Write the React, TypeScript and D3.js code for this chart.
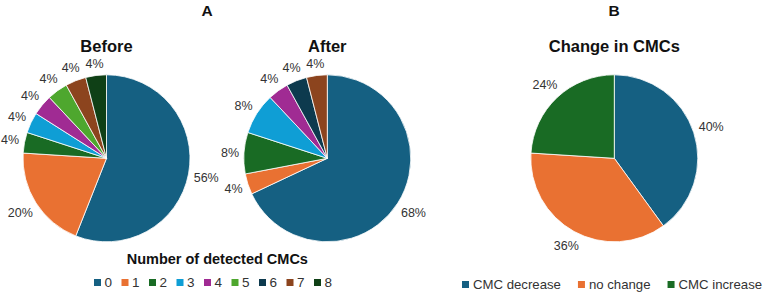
import React from 'react';
import * as d3 from 'd3';

const cmcCategories = ['0', '1', '2', '3', '4', '5', '6', '7', '8'];
const cmcColors = ['#156082', '#E97132', '#196B24', '#0F9ED5', '#A02B93', '#4EA72E', '#0D3A4E', '#8C441E', '#0F4016'];
const beforeValues = [56, 20, 4, 4, 4, 4, 0, 4, 4];
const afterValues = [68, 4, 8, 8, 4, 0, 4, 4, 0];
const changeCategories = ['CMC decrease', 'no change', 'CMC increase'];
const changeValues = [40, 36, 24];
const changeColors = ['#156082', '#E97132', '#196B24'];

const FONT = "'Liberation Sans', Arial, sans-serif";
const W = 773;
const H = 294;
const R = 83.5;
const LABEL_SIZE = 12.5;

function measure(text: string, size: number, weight = 'normal'): number {
  const c = document.createElement('canvas').getContext('2d');
  if (!c) return text.length * size * 0.55;
  c.font = `${weight} ${size}px ${FONT}`;
  return c.measureText(text).width;
}

type PieProps = { cx: number; cy: number; values: number[]; colors: string[]; title: string };

function Pie({ cx, cy, values, colors, title }: PieProps) {
  const pie = d3.pie<number>().sort(null).value((d) => d).startAngle(0).endAngle(2 * Math.PI);
  const arcs = pie(values);
  const arc = d3.arc<d3.PieArcDatum<number>>().innerRadius(0).outerRadius(R);
  const total = d3.sum(values);
  return (
    <g>
      <text x={cx} y={52} textAnchor="middle" fontFamily={FONT} fontWeight="bold" fontSize={16.5} fill="#111">
        {title}
      </text>
      <g transform={`translate(${cx},${cy})`}>
        {arcs.map((a, i) =>
          a.value > 0 ? (
            <path key={i} d={arc(a) || ''} fill={colors[i]} stroke="#fff" strokeWidth={0.8} />
          ) : null
        )}
        {arcs.map((a, i) => {
          if (a.value <= 0) return null;
          const label = `${Math.round((a.value / total) * 100)}%`;
          const mid = (a.startAngle + a.endAngle) / 2;
          const ux = Math.sin(mid);
          const uy = -Math.cos(mid);
          const w = measure(label, LABEL_SIZE);
          const h = 13;
          const d = R + 4.5 + Math.abs(ux) * (w / 2) + Math.abs(uy) * (h / 2);
          return (
            <text
              key={'l' + i}
              x={ux * d}
              y={uy * d}
              dy="0.36em"
              textAnchor="middle"
              fontFamily={FONT}
              fontSize={LABEL_SIZE}
              fill="#333"
            >
              {label}
            </text>
          );
        })}
      </g>
    </g>
  );
}

export default function App() {
  const legendA = d3.scalePoint<string>().domain(cmcCategories).range([94, 314]);
  const legendBSize = 13.2;
  let bx = 462;
  const legendB = changeCategories.map((c, i) => {
    const x = bx;
    const tw = measure(c, legendBSize);
    bx = x + 11 + tw + 17;
    return { c, x, color: changeColors[i] };
  });

  return (
    <svg width={W} height={H} style={{ position: 'absolute', left: 0, top: 0, background: '#fff' }}>
      <rect width={W} height={H} fill="#fff" />
      <text x={207} y={16} textAnchor="middle" fontFamily={FONT} fontWeight="bold" fontSize={15.5} fill="#111">A</text>
      <text x={614} y={16} textAnchor="middle" fontFamily={FONT} fontWeight="bold" fontSize={15.5} fill="#111">B</text>

      <Pie cx={106.5} cy={158.3} values={beforeValues} colors={cmcColors} title="Before" />
      <Pie cx={327.3} cy={158.3} values={afterValues} colors={cmcColors} title="After" />
      <Pie cx={614.3} cy={158.3} values={changeValues} colors={changeColors} title="Change in CMCs" />

      <text x={217.3} y={264} textAnchor="middle" fontFamily={FONT} fontWeight="bold" fontSize={14.5} fill="#111">
        Number of detected CMCs
      </text>
      {cmcCategories.map((c, i) => (
        <g key={c}>
          <rect x={legendA(c)} y={279} width={7} height={7} fill={cmcColors[i]} />
          <text x={(legendA(c) as number) + 10.5} y={287} fontFamily={FONT} fontSize={13.5} fill="#333">
            {c}
          </text>
        </g>
      ))}

      {legendB.map((it) => (
        <g key={it.c}>
          <rect x={it.x} y={281} width={7} height={7} fill={it.color} />
          <text x={it.x + 11} y={288.5} fontFamily={FONT} fontSize={legendBSize} fill="#333">
            {it.c}
          </text>
        </g>
      ))}
    </svg>
  );
}
